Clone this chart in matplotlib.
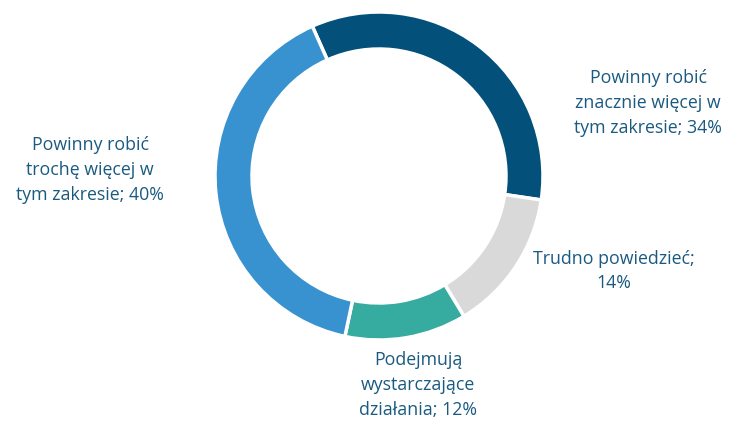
import matplotlib.pyplot as plt

# Survey answers and shares (%)
labels = [
    'Powinny robić\nznacznie więcej w\ntym zakresie; 34%',
    'Trudno powiedzieć;\n14%',
    'Podejmują\nwystarczające\ndziałania; 12%',
    'Powinny robić\ntrochę więcej w\ntym zakresie; 40%',
]
values = [34, 14, 12, 40]
colors = ['#03507A', '#D9D9D9', '#36ABA0', '#3892D0']

# label anchor points in pixel coords (x, y from top)
label_pos = [(648, 103), (614, 271), (418, 385), (90, 170)]

fig = plt.figure(figsize=(7.3, 4.23), dpi=100)
ax = fig.add_axes([0, 0, 1, 1])

# donut ring
ax.pie(values, colors=colors, startangle=114, counterclock=False,
       center=(379, 423 - 176), radius=164, frame=True,
       wedgeprops=dict(width=37, edgecolor='white', linewidth=2.5))
ax.set_xlim(0, 730)
ax.set_ylim(0, 423)
ax.set_aspect('equal')
ax.axis('off')

for txt, (x, y) in zip(labels, label_pos):
    ax.text(x, 423 - y, txt, ha='center', va='center', fontsize=12.8,
            color='#1A5A80', family='Open Sans', linespacing=1.5)

plt.savefig('out.png', dpi=100)
